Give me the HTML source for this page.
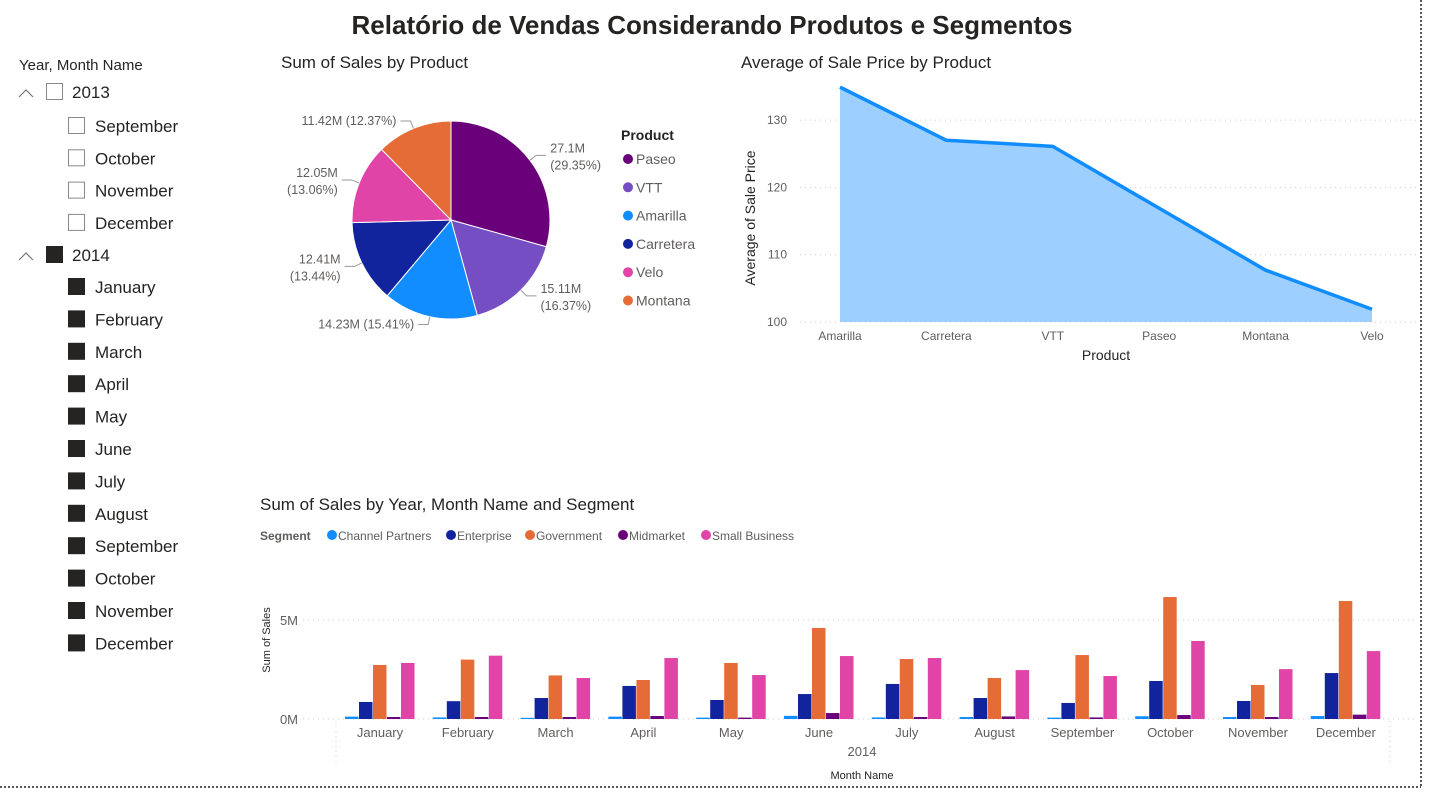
<!DOCTYPE html>
<html><head><meta charset="utf-8"><style>
body{margin:0;width:1434px;height:795px;background:#fff;font-family:"Liberation Sans","DejaVu Sans",sans-serif;overflow:hidden;position:relative}
svg{position:absolute;left:0;top:0}
</style></head><body>
<svg width="1434" height="795" font-family="Liberation Sans, DejaVu Sans, sans-serif">
<line x1="1421" y1="0" x2="1421" y2="787" stroke="#555" stroke-width="2" stroke-dasharray="2,2"/>
<line x1="0" y1="787" x2="1421" y2="787" stroke="#555" stroke-width="2" stroke-dasharray="2,2"/>
<text x="712" y="34" text-anchor="middle" font-size="26" font-weight="bold" fill="#252423">Relatório de Vendas Considerando Produtos e Segmentos</text>
<g id="slicer"></g>
<g id="pie"></g>
<g id="area"></g>
<g id="bars"></g>
</svg>
<script>
const NS="http://www.w3.org/2000/svg";
function mk(p,t,a,txt){const e=document.createElementNS(NS,t);for(const k in a)e.setAttribute(k,a[k]);if(txt!==undefined)e.textContent=txt;p.appendChild(e);return e;}

// ---------- slicer ----------
const months2013=["September","October","November","December"];
const months2014=["January","February","March","April","May","June","July","August","September","October","November","December"];
const sl=document.getElementById('slicer');
let t=mk(sl,'text',{x:19,y:70,'font-size':15,fill:'#252423'},'Year, Month Name');


function yearRow(y,label,filled){
  const g=mk(sl,'g',{});
  
  
  mk(g,'path',{d:`M19 ${y+5} L26 ${y-2} L33 ${y+5}`,fill:'none',stroke:'#777','stroke-width':1.2});
  mk(g,'rect',{x:46.5,y:y-8.5,width:16,height:16,fill:filled?'#252423':'#fff',stroke:filled?'#252423':'#888'});
  mk(g,'text',{x:72,y:y+6,'font-size':17,fill:'#252423'},label);
}
function monthRow(y,label,filled,yr){
  const g=mk(sl,'g',{});
  
  
  mk(g,'rect',{x:68.5,y:y-8.5,width:16,height:16,fill:filled?'#252423':'#fff',stroke:filled?'#252423':'#888'});
  mk(g,'text',{x:95,y:y+6,'font-size':17,fill:'#252423'},label);
}
yearRow(92,'2013',false);
months2013.forEach((m,i)=>monthRow(126+i*32.3,m,false,2013));
yearRow(255,'2014',true);
months2014.forEach((m,i)=>monthRow(287+i*32.4,m,true,2014));

// ---------- pie ----------
const pieProducts=["Paseo","VTT","Amarilla","Carretera","Velo","Montana"];
const pieValues=[27.1,15.11,14.23,12.41,12.05,11.42];
const pieLabels=["27.1M","15.11M","14.23M","12.41M","12.05M","11.42M"];
const piePct=["29.35%","16.37%","15.41%","13.44%","13.06%","12.37%"];
const pieColors=["#6B007B","#744EC2","#118DFF","#12239E","#E044A7","#E66C37"];
const pie=document.getElementById('pie');
t=mk(pie,'text',{x:281,y:68,'font-size':17,fill:'#252423'},'Sum of Sales by Product');


const cx=451,cy=220,R=99;
const tot=pieValues.reduce((a,b)=>a+b,0);
let ang=0;
pieValues.forEach((v,i)=>{
  const a0=ang,a1=ang+v/tot*2*Math.PI;ang=a1;
  const p=(a)=>[cx+R*Math.sin(a),cy-R*Math.cos(a)];
  const [x0,y0]=p(a0),[x1,y1]=p(a1);
  const s=mk(pie,'path',{d:`M${cx} ${cy} L${x0} ${y0} A${R} ${R} 0 ${a1-a0>Math.PI?1:0} 1 ${x1} ${y1} Z`,fill:pieColors[i],stroke:'#fff','stroke-width':1});
  
  
  const am=(a0+a1)/2;
  const ex=cx+(R+8)*Math.sin(am),ey=cy-(R+8)*Math.cos(am);
  const right=Math.sin(am)>=0;
  const lx=ex+(right?10:-10),ly=ey;
  mk(pie,'path',{d:`M${cx+R*Math.sin(am)} ${cy-R*Math.cos(am)} L${ex} ${ey} L${lx} ${ly}`,fill:'none',stroke:'#999'});
  const pct=piePct[i];
  const single=(i===5||i===2);
  const lab=mk(pie,'text',{x:lx+(right?4:-4),y:single?ly+4:ly-3,'font-size':12.5,fill:'#605E5C','text-anchor':right?'start':'end'});
  
  
  if(single){mk(lab,'tspan',{},pieLabels[i]+' ('+pct+')');}
  else{mk(lab,'tspan',{x:lx+(right?4:-4)},pieLabels[i]);mk(lab,'tspan',{x:lx+(right?4:-4),dy:17},'('+pct+')');}
});
t=mk(pie,'text',{x:621,y:140,'font-size':14,'font-weight':'bold',fill:'#252423'},'Product');


pieProducts.forEach((n,i)=>{
  const g=mk(pie,'g',{});
  
  
  mk(g,'circle',{cx:628,cy:159+i*28.3,r:5,fill:pieColors[i]});
  mk(g,'text',{x:636,y:164+i*28.3,'font-size':14,fill:'#605E5C'},n);
});

// ---------- area ----------
const areaProducts=["Amarilla","Carretera","VTT","Paseo","Montana","Velo"];
const areaValues=[134.9,127.0,126.1,116.9,107.7,101.9];
const areaTicks=[100,110,120,130];
const ar=document.getElementById('area');
t=mk(ar,'text',{x:741,y:68,'font-size':17,fill:'#252423'},'Average of Sale Price by Product');


const ay=v=>322-(v-100)*6.73;
const ax=i=>840+i*106.4;
areaTicks.forEach(v=>{
  mk(ar,'line',{x1:800,x2:1420,y1:ay(v),y2:ay(v),stroke:'#ccc','stroke-dasharray':'1,4'});
  const l=mk(ar,'text',{x:787,y:ay(v)+4,'font-size':12,fill:'#605E5C','text-anchor':'end'},String(v));
  
  
});
let d=`M${ax(0)} ${ay(100)}`;areaValues.forEach((v,i)=>d+=` L${ax(i)} ${ay(v)}`);d+=` L${ax(areaValues.length-1)} ${ay(100)} Z`;
let e=mk(ar,'path',{d,fill:'#9ED0FF'});


e=mk(ar,'polyline',{points:areaValues.map((v,i)=>ax(i)+','+ay(v)).join(' '),fill:'none',stroke:'#118DFF','stroke-width':3.5,'stroke-linejoin':'round'});


areaProducts.forEach((p,i)=>{
  const l=mk(ar,'text',{x:ax(i),y:340,'font-size':12,fill:'#605E5C','text-anchor':'middle'},p);
  
  
});
t=mk(ar,'text',{x:1106,y:360,'font-size':14,fill:'#252423','text-anchor':'middle'},'Product');


t=mk(ar,'text',{x:0,y:0,'font-size':14,fill:'#252423','text-anchor':'middle',transform:'translate(755,218) rotate(-90)'},'Average of Sale Price');



// ---------- bars ----------
const barMonths=["January","February","March","April","May","June","July","August","September","October","November","December"];
const segments=["Channel Partners","Enterprise","Government","Midmarket","Small Business"];
const segColors=["#118DFF","#12239E","#E66C37","#6B007B","#E044A7"];
const channelPartners=[0.12,0.08,0.06,0.12,0.07,0.16,0.08,0.1,0.07,0.14,0.1,0.15];
const enterprise=[0.86,0.9,1.06,1.67,0.96,1.26,1.77,1.06,0.81,1.92,0.91,2.32];
const government=[2.73,3.0,2.2,1.97,2.83,4.6,3.03,2.07,3.23,6.16,1.72,5.96];
const midmarket=[0.1,0.1,0.1,0.15,0.07,0.3,0.1,0.13,0.08,0.2,0.1,0.22];
const smallBusiness=[2.83,3.2,2.07,3.08,2.22,3.18,3.08,2.47,2.17,3.94,2.52,3.43];
const barTicks=[0,5];
const barTickLabels=["0M","5M"];
const series=[channelPartners,enterprise,government,midmarket,smallBusiness];
const bg=document.getElementById('bars');
t=mk(bg,'text',{x:260,y:510,'font-size':17,fill:'#252423'},'Sum of Sales by Year, Month Name and Segment');


t=mk(bg,'text',{x:260,y:540,'font-size':12,'font-weight':'bold',fill:'#605E5C'},'Segment');


const legX=[330,449,528,621,704];
segments.forEach((s,i)=>{
  const g=mk(bg,'g',{});
  
  
  mk(g,'circle',{cx:legX[i]+2,cy:535,r:5,fill:segColors[i]});
  mk(g,'text',{x:legX[i]+8,y:540,'font-size':12,fill:'#605E5C'},s);
});
const by=v=>719-v*19.8;
const bx=i=>380+i*87.8;
const bw=14;
barTicks.forEach((v,k)=>{
  mk(bg,'line',{x1:303,x2:1418,y1:by(v),y2:by(v),stroke:'#ccc','stroke-dasharray':'1,4'});
  const l=mk(bg,'text',{x:298,y:by(v)+5,'font-size':13,fill:'#605E5C','text-anchor':'end'},barTickLabels[k]);
  
  
});
mk(bg,'line',{x1:336,x2:336,y1:721,y2:765,stroke:'#ccc','stroke-dasharray':'1,4'});
mk(bg,'line',{x1:1390,x2:1390,y1:721,y2:765,stroke:'#ccc','stroke-dasharray':'1,4'});
barMonths.forEach((m,i)=>{
  series.forEach((arr,s)=>{
    const v=arr[i];
    const r=mk(bg,'rect',{x:bx(i)-2.5*bw+s*bw,y:by(v),width:bw-0.5,height:by(0)-by(v),fill:segColors[s]});
    
    
  });
  const l=mk(bg,'text',{x:bx(i),y:737,'font-size':13,fill:'#605E5C','text-anchor':'middle'},m);
  
  
});
t=mk(bg,'text',{x:862,y:756,'font-size':13,fill:'#605E5C','text-anchor':'middle'},'2014');


t=mk(bg,'text',{x:862,y:779,'font-size':11,fill:'#252423','text-anchor':'middle'},'Month Name');


t=mk(bg,'text',{x:0,y:0,'font-size':11,fill:'#252423','text-anchor':'middle',transform:'translate(270,640) rotate(-90)'},'Sum of Sales');


</script>
</body></html>
